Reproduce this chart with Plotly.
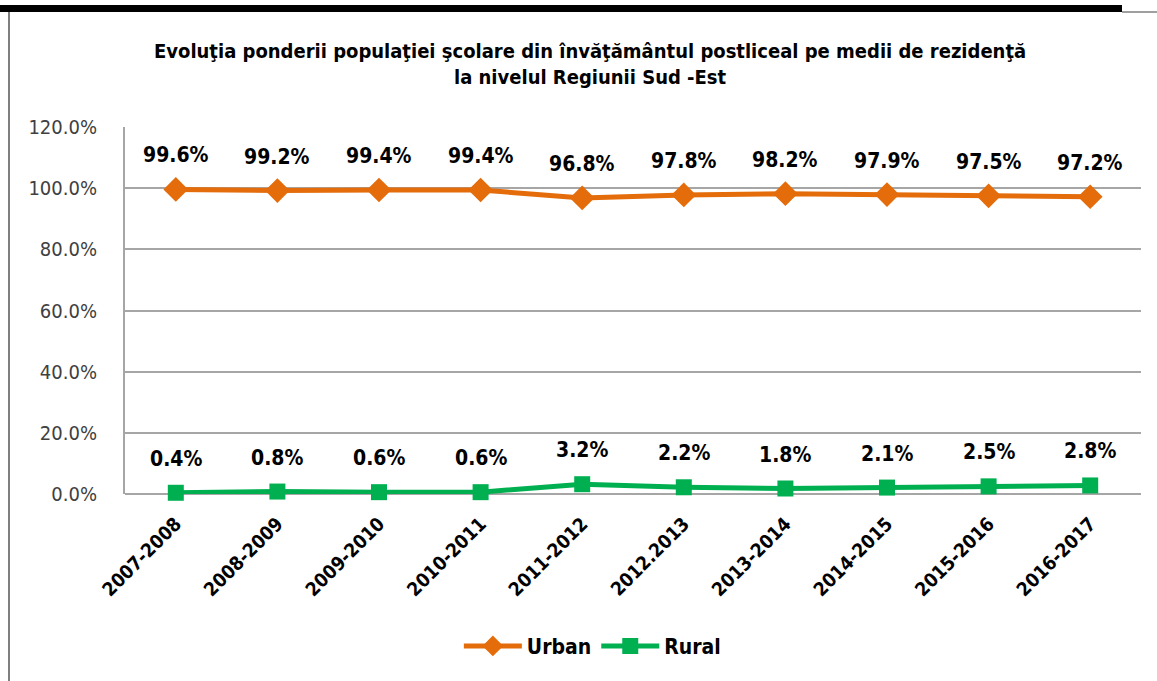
import plotly.graph_objects as go

categories = ["2007-2008", "2008-2009", "2009-2010", "2010-2011", "2011-2012",
              "2012.2013", "2013-2014", "2014-2015", "2015-2016", "2016-2017"]
urban = [0.996, 0.992, 0.994, 0.994, 0.968, 0.978, 0.982, 0.979, 0.975, 0.972]
rural = [0.004, 0.008, 0.006, 0.006, 0.032, 0.022, 0.018, 0.021, 0.025, 0.028]
y_ticks = [0, 0.2, 0.4, 0.6, 0.8, 1.0, 1.2]

FONT = "DejaVu Sans Condensed, Liberation Sans Narrow, Arial Narrow, Liberation Sans, Arial, sans-serif"
ORANGE = "#E46C0A"
GREEN = "#00B050"

fig = go.Figure()
fig.add_trace(go.Scatter(
    x=categories, y=urban, name="<b>Urban</b>", mode="lines+markers",
    line=dict(color=ORANGE, width=5), cliponaxis=False,
    marker=dict(symbol="diamond", size=19, color=ORANGE),
))
fig.add_trace(go.Scatter(
    x=categories, y=rural, name="<b>Rural</b>", mode="lines+markers",
    line=dict(color=GREEN, width=5), cliponaxis=False,
    marker=dict(symbol="square", size=16, color=GREEN),
))

annotations = []
for i, v in enumerate(urban):
    annotations.append(dict(x=i, y=v, text=f"<b>{v*100:.1f}%</b>", showarrow=False,
                            yshift=34, font=dict(family=FONT, size=21, color="#000000")))
for i, v in enumerate(rural):
    annotations.append(dict(x=i, y=v, text=f"<b>{v*100:.1f}%</b>", showarrow=False,
                            yshift=34, font=dict(family=FONT, size=21, color="#000000")))

PH = 367.0
PW = 1016.0
annotations.append(dict(
    x=(590 - 125) / PW, xref="paper", y=1 + (127 - 64) / PH, yref="paper", yanchor="middle",
    text="<b>Evoluţia ponderii populaţiei şcolare din învăţământul postliceal pe medii de rezidenţă<br>la nivelul Regiunii Sud -Est</b>",
    showarrow=False, font=dict(family=FONT, size=20, color="#000000"),
))

fig.update_layout(
    width=1157, height=681,
    margin=dict(l=125, r=16, t=127, b=187),
    paper_bgcolor="white", plot_bgcolor="white",
    showlegend=True,
    legend=dict(orientation="h", x=0.46, xanchor="center", y=-0.415, yanchor="middle",
                font=dict(family=FONT, size=21, color="#000000"), itemwidth=58),
    annotations=annotations,
    xaxis=dict(
        type="category", range=[-0.5, 9.5], tickangle=-45,
        tickfont=dict(family=FONT, size=19, color="#000000", weight="bold"),
        showgrid=False, showline=False, ticks="", ticklabelstandoff=14,
    ),
    yaxis=dict(
        range=[0, 1.2], tickvals=y_ticks, tickformat=".1%",
        tickfont=dict(family=FONT, size=20, color="#404040"),
        showgrid=True, gridcolor="#A6A6A6", gridwidth=2,
        showline=True, linecolor="#A6A6A6", linewidth=2,
        zeroline=True, zerolinecolor="#A6A6A6", zerolinewidth=2,
        ticks="", ticklabelstandoff=22,
    ),
    shapes=[
        dict(type="line", xref="paper", yref="paper", x0=-125 / PW, x1=(1122 - 125) / PW,
             y0=1 + (127 - 8.5) / PH, y1=1 + (127 - 8.5) / PH, line=dict(color="black", width=7)),
        dict(type="line", xref="paper", yref="paper", x0=(1122 - 125) / PW, x1=(1157 - 125) / PW,
             y0=1 + (127 - 12) / PH, y1=1 + (127 - 12) / PH, line=dict(color="#7F7F7F", width=1.5)),
        dict(type="line", xref="paper", yref="paper", x0=-(125 - 9) / PW, x1=-(125 - 9) / PW,
             y0=1 + (127 - 12) / PH, y1=-(681 - 494) / PH, line=dict(color="#7F7F7F", width=2)),
    ],
)

fig.write_html("out.html", config={"displayModeBar": False},
               post_script="document.body.style.margin='0px';document.body.style.overflow='hidden';")
